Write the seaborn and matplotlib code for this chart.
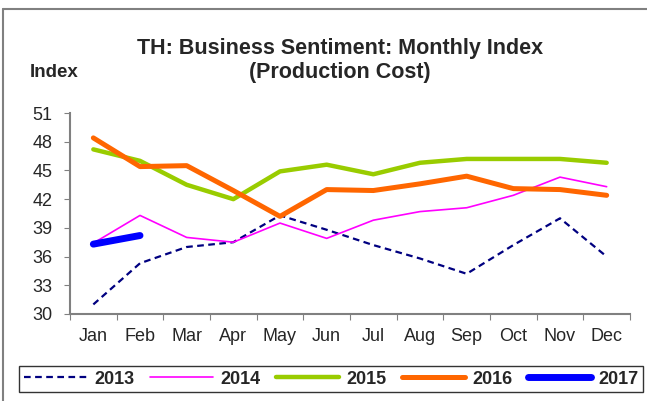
import numpy as np
import pandas as pd
import seaborn as sns
import matplotlib.pyplot as plt
from matplotlib.lines import Line2D

# Business sentiment, production cost index
months = ['Jan', 'Feb', 'Mar', 'Apr', 'May', 'Jun', 'Jul', 'Aug', 'Sep', 'Oct', 'Nov', 'Dec']
idx_2013 = [31.0, 35.3, 37.0, 37.5, 40.3, 38.8, 37.2, 35.8, 34.2, 37.2, 40.0, 36.0]
idx_2014 = [37.4, 40.3, 38.0, 37.5, 39.5, 37.9, 39.8, 40.7, 41.1, 42.4, 44.3, 43.3]
idx_2015 = [47.2, 46.0, 43.5, 42.0, 44.9, 45.6, 44.6, 45.8, 46.2, 46.2, 46.2, 45.8]
idx_2016 = [48.4, 45.4, 45.5, 42.9, 40.2, 43.0, 42.9, 43.6, 44.4, 43.1, 43.0, 42.4]
idx_2017 = [37.3, 38.2]

years = ['2013', '2014', '2015', '2016', '2017']
series = [idx_2013, idx_2014, idx_2015, idx_2016, idx_2017]
colors = ['#000080', '#FF00FF', '#99CC00', '#FF6600', '#0000FF']
widths = [1.6, 1.2, 3.2, 3.6, 5.0]
dashes = [(3, 2), '', '', '', '']

sns.set_style('ticks')
plt.rcParams['font.family'] = ['Liberation Sans', 'DejaVu Sans']

fig = plt.figure(figsize=(6.47, 4.01), dpi=100)
ax = fig.add_axes([70 / 647, 1 - 314 / 401, 560 / 647, 201 / 401])

for yr, vals, c, lw, d in zip(years, series, colors, widths, dashes):
    df = pd.DataFrame({'m': np.arange(len(vals)), 'v': vals})
    sns.lineplot(data=df, x='m', y='v', ax=ax, color=c, linewidth=lw,
                 legend=False)
    line = ax.get_lines()[-1]
    if d:
        line.set_dashes(d)
    line.set_solid_capstyle('round')

ax.set_xlim(-0.5, 11.5)
ax.set_ylim(30, 51)
ax.set_yticks(np.arange(30, 52, 3))
ax.set_xticks(np.arange(-0.5, 12, 1))
ax.set_xticklabels([])
ax.set_xticks(np.arange(12), minor=True)
ax.set_xticklabels(months, minor=True)
ax.tick_params(axis='x', which='minor', length=0, pad=10, labelsize=13)
ax.tick_params(axis='x', which='major', length=4, color='#808080', direction='out')
ax.tick_params(axis='y', length=4.5, color='#808080', labelsize=13, pad=8)
ax.set_xlabel('')
ax.set_ylabel('')
for s in ['top', 'right']:
    ax.spines[s].set_visible(False)
for s in ['left', 'bottom']:
    ax.spines[s].set_color('#808080')
    ax.spines[s].set_linewidth(1.5)

fig.text(340 / 647, 1 - 54 / 401, 'TH: Business Sentiment: Monthly Index',
         ha='center', va='baseline', fontsize=15.5, fontweight='bold')
fig.text(340 / 647, 1 - 78 / 401, '(Production Cost)',
         ha='center', va='baseline', fontsize=15.5, fontweight='bold')
fig.text(30 / 647, 1 - 77 / 401, 'Index', ha='left', va='baseline',
         fontsize=13.5, fontweight='bold')

# outer frame (top and left edges visible)
fig.add_artist(Line2D([3 / 647, 3 / 647], [0, 1 - 9 / 401],
                      transform=fig.transFigure, color='#808080', linewidth=1.5))
fig.add_artist(Line2D([3 / 647, 1], [1 - 9 / 401, 1 - 9 / 401],
                      transform=fig.transFigure, color='#808080', linewidth=1.5))

handles = [Line2D([], [], color=c, linewidth=lw, dashes=d if d else (None, None),
                  solid_capstyle='round') for c, lw, d in zip(colors, widths, dashes)]
leg = fig.legend(handles, years, loc='center', bbox_to_anchor=(331 / 647, 1 - 379 / 401),
                 ncol=5, frameon=True, fancybox=False, handlelength=3.5,
                 columnspacing=0.85, handletextpad=0.4, borderpad=0.25,
                 prop={'weight': 'bold', 'size': 13})
leg.get_frame().set_edgecolor('black')
leg.get_frame().set_linewidth(1.0)

fig.savefig('out.png', dpi=100)
